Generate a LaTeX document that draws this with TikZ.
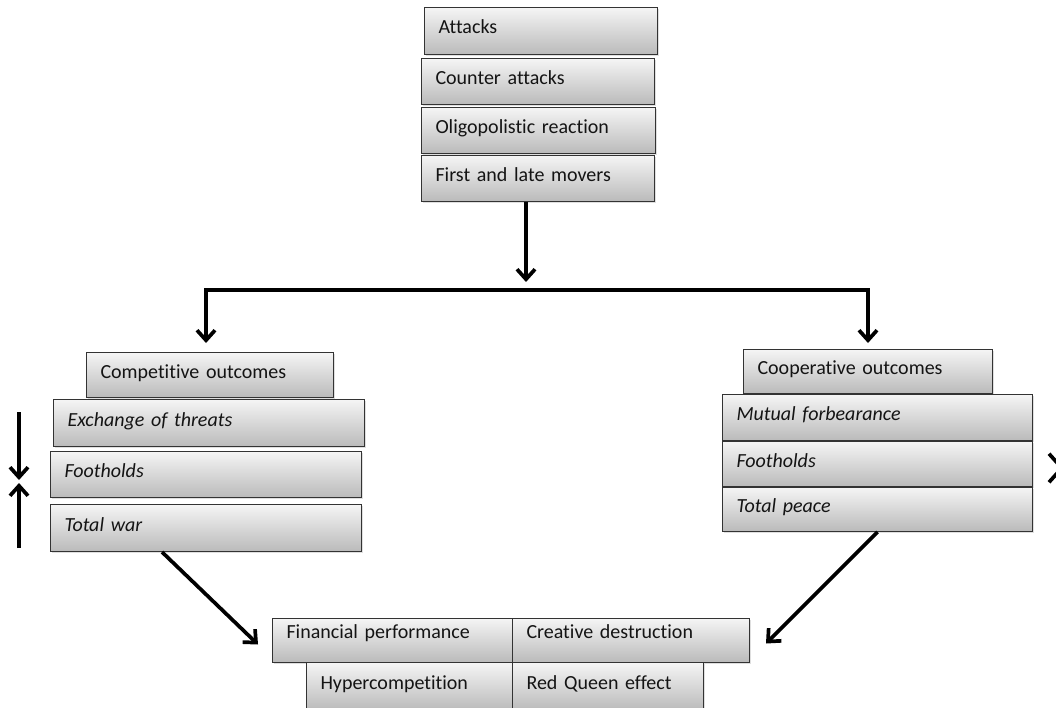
\documentclass[tikz,border=0pt]{standalone}
\usepackage{fontspec}
\setmainfont{Carlito}[Ligatures=NoCommon]
\usetikzlibrary{positioning,arrows.meta,shadows}

\tikzset{
  cellbox/.style={draw=black!80, line width=1pt, top color=black!4, bottom color=black!27,
    drop shadow={shadow xshift=1.5pt, shadow yshift=-1.5pt, opacity=0.25},
    anchor=north west, inner xsep=14pt, inner ysep=0pt, align=left, text=black!92,
    font=\fontsize{20}{24}\selectfont, text height=14pt, text depth=8pt, text width=#1},
  arr/.style={line width=3.7pt, -{Straight Barb[length=10pt,width=18pt]}},
}

\begin{document}
\begin{tikzpicture}[x=1pt, y=-1pt]
    \useasboundingbox (0,0) rectangle (1056,708);
    \clip (0,0) rectangle (1056,708);
    % moves
    \node[cellbox=205pt, minimum height=47pt] (attacks) at (424,7) {Attacks};
    \node[cellbox=205pt, minimum height=46pt] (counter) at (421,58) {Counter attacks};
    \node[cellbox=206pt, minimum height=46pt] (oligo) at (421,107) {Oligopolistic reaction};
    \node[cellbox=205pt, minimum height=46pt] (movers) at (421,155) {First and late movers};
    % competitive side
    \node[cellbox=219pt, minimum height=45pt] (compet) at (86,352) {Competitive outcomes};
    \node[cellbox=283pt, minimum height=47pt, font=\fontsize{20}{24}\selectfont\itshape] (threat) at (53,399) {Exchange of threats};
    \node[cellbox=283pt, minimum height=46pt, font=\fontsize{20}{24}\selectfont\itshape] (foothold) at (50,451) {Footholds};
    \node[cellbox=283pt, minimum height=47pt, font=\fontsize{20}{24}\selectfont\itshape] (war) at (50,504) {Total war};
    % cooperative side
    \node[cellbox=221pt, minimum height=44pt] (coop) at (743,349) {Cooperative outcomes};
    \node[cellbox=282pt, minimum height=46pt, font=\fontsize{20}{24}\selectfont\itshape] (mutual) at (722,394) {Mutual forbearance};
    \node[cellbox=282pt, minimum height=45pt, font=\fontsize{20}{24}\selectfont\itshape,
      below=0pt of mutual.south west, anchor=north west] (foothold2) {Footholds};
    \node[cellbox=282pt, minimum height=44pt, font=\fontsize{20}{24}\selectfont\itshape,
      below=0pt of foothold2.south west, anchor=north west] (peace) {Total peace};
    % results
    \node[cellbox=212pt, minimum height=44pt, text height=9pt, text depth=13pt] (fin) at (272,618) {Financial performance};
    \node[cellbox=209pt, minimum height=44pt, text height=9pt, text depth=13pt] (crea) at (512,618) {Creative destruction};
    \node[cellbox=178pt, minimum height=48pt] (hyper) at (306,662) {Hypercompetition};
    \node[cellbox=163pt, minimum height=48pt] (queen) at (512,662) {Red Queen effect};

    \coordinate (split) at (526,290);
    \draw[arr] (movers.south -| split) -- ([yshift=8pt]split);
    \draw[line width=3.7pt, {Straight Barb[length=10pt,width=18pt]}-{Straight Barb[length=10pt,width=18pt]},
      shorten <=9pt, shorten >=6pt] ([xshift=-4pt]compet.north) |- (split) -| (coop.north);
    \draw[arr] ([xshift=-44pt]war.south) -- ([xshift=-14pt,yshift=-4pt]fin.west);
    \draw[arr] (peace.south) -- ([xshift=16pt,yshift=-3pt]crea.east);

    % escalation arrows at the sides
    \coordinate (lt) at (19,412);
    \coordinate (lm) at (19,481.5);
    \coordinate (lb) at (19,548);
    \draw[arr] (lt) -- ([yshift=1.5pt]lm);
    \draw[arr] (lb) -- ([yshift=-1.5pt]lm);
    \coordinate (rt) at (1058,407);
    \coordinate (rm) at (1058,468);
    \coordinate (rb) at (1058,527);
    \draw[arr] (rt) -- ([yshift=1.5pt]rm);
    \draw[arr] (rb) -- ([yshift=-1.5pt]rm);
  \end{tikzpicture}
\end{document}
